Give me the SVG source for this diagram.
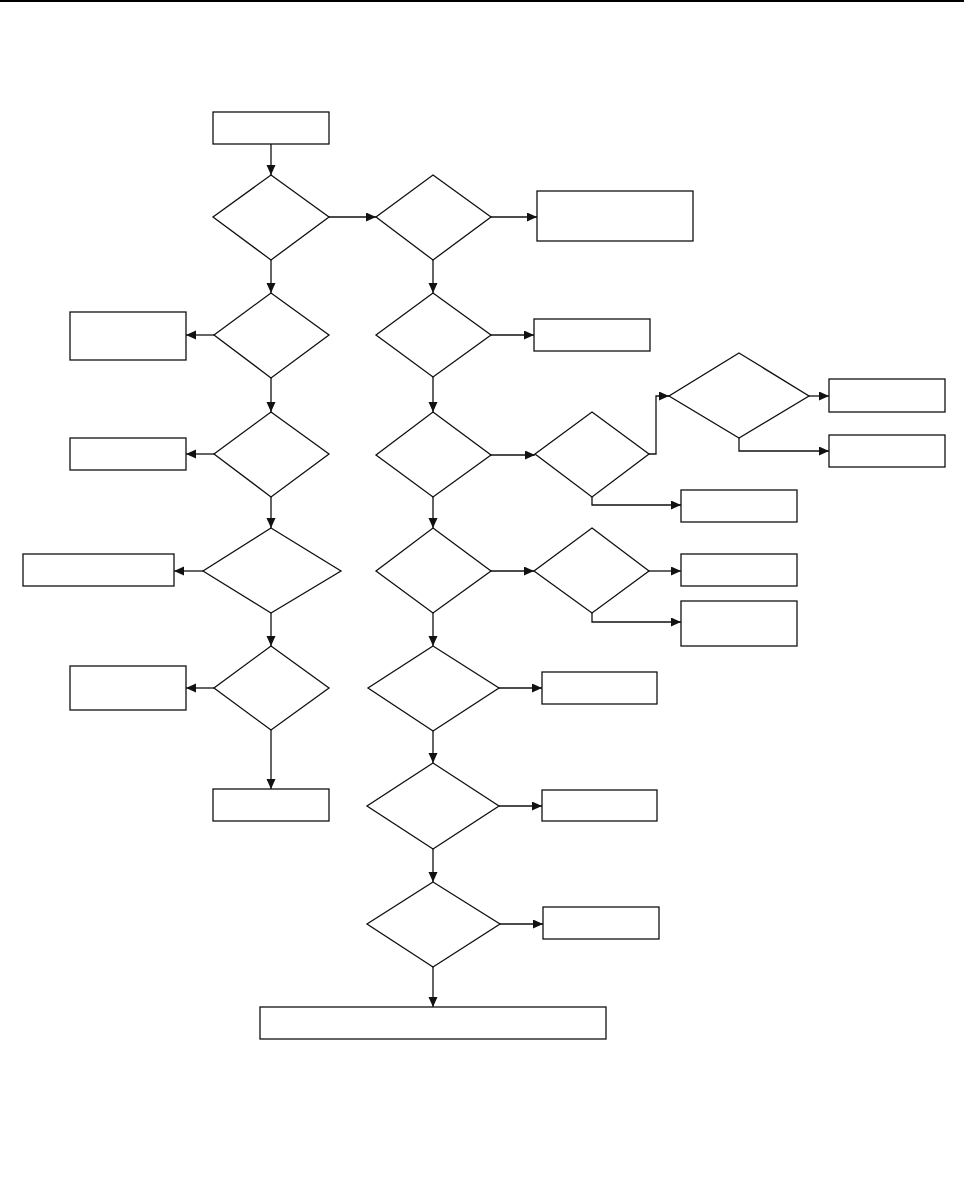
<svg xmlns="http://www.w3.org/2000/svg" width="964" height="1200" viewBox="0 0 964 1200">
<style>
.n{fill:#fff;stroke:#111;stroke-width:1.3}
.c{fill:none;stroke:#111;stroke-width:1.3;marker-end:url(#ah)}
</style>
<defs>
<marker id="ah" markerUnits="userSpaceOnUse" markerWidth="11" markerHeight="10" refX="10" refY="4.5" orient="auto">
<path d="M0,0 L10,4.5 L0,9 z" fill="#111"/>
</marker>
</defs>
<rect x="0" y="0" width="964" height="2" fill="#000"/>
<g id="connectors">
<path class="c" d="M271,144 V175"/>
<path class="c" d="M329,217 H376"/>
<path class="c" d="M491,217 H537"/>
<path class="c" d="M271,260 V293"/>
<path class="c" d="M214,335 H186"/>
<path class="c" d="M271,378 V412"/>
<path class="c" d="M214,454 H186"/>
<path class="c" d="M271,497 V528"/>
<path class="c" d="M203,571 H174"/>
<path class="c" d="M271,613 V646"/>
<path class="c" d="M214,688 H186"/>
<path class="c" d="M271,730 V789"/>
<path class="c" d="M433,260 V293"/>
<path class="c" d="M491,335 H534"/>
<path class="c" d="M433,377 V412"/>
<path class="c" d="M491,455 H535"/>
<path class="c" d="M649,454 H656 V396 H669"/>
<path class="c" d="M809,396 H829"/>
<path class="c" d="M739,438 V451 H829"/>
<path class="c" d="M592,497 V505 H681"/>
<path class="c" d="M433,497 V528"/>
<path class="c" d="M491,571 H534"/>
<path class="c" d="M649,571 H681"/>
<path class="c" d="M592,613 V622 H681"/>
<path class="c" d="M433,613 V646"/>
<path class="c" d="M499,688 H542"/>
<path class="c" d="M433,731 V763"/>
<path class="c" d="M499,806 H542"/>
<path class="c" d="M433,849 V882"/>
<path class="c" d="M500,924 H543"/>
<path class="c" d="M433,967 V1007"/>
</g>
<g id="start"><rect class="n" x="213" y="112" width="116" height="32"/></g>
<g id="dL1"><polygon class="n" points="271,175 329,217 271,260 213,217"/></g>
<g id="dR1"><polygon class="n" points="433,175 491,217 433,260 376,217"/></g>
<g id="rR1"><rect class="n" x="537" y="191" width="156" height="50"/></g>
<g id="dL2"><polygon class="n" points="271,293 329,335 271,378 214,335"/></g>
<g id="rL2"><rect class="n" x="70" y="312" width="116" height="48"/></g>
<g id="dL3"><polygon class="n" points="271,412 329,454 271,497 214,454"/></g>
<g id="rL3"><rect class="n" x="70" y="438" width="116" height="32"/></g>
<g id="dL4"><polygon class="n" points="271,528 341,571 271,613 203,571"/></g>
<g id="rL4"><rect class="n" x="23" y="554" width="151" height="32"/></g>
<g id="dL5"><polygon class="n" points="271,646 329,688 271,730 214,688"/></g>
<g id="rL5"><rect class="n" x="70" y="666" width="116" height="44"/></g>
<g id="rL6"><rect class="n" x="213" y="789" width="116" height="32"/></g>
<g id="dR2"><polygon class="n" points="433,293 491,335 433,377 376,335"/></g>
<g id="rR2"><rect class="n" x="534" y="319" width="116" height="32"/></g>
<g id="dR3"><polygon class="n" points="433,412 491,455 433,497 376,455"/></g>
<g id="dD"><polygon class="n" points="592,412 649,454 592,497 535,454"/></g>
<g id="dE"><polygon class="n" points="739,353 809,396 739,438 669,396"/></g>
<g id="rE1"><rect class="n" x="829" y="379" width="116" height="33"/></g>
<g id="rE2"><rect class="n" x="829" y="435" width="116" height="32"/></g>
<g id="rD"><rect class="n" x="681" y="490" width="116" height="32"/></g>
<g id="dR4"><polygon class="n" points="433,528 491,571 433,613 376,571"/></g>
<g id="dF"><polygon class="n" points="592,528 649,571 592,613 534,571"/></g>
<g id="rF1"><rect class="n" x="681" y="554" width="116" height="32"/></g>
<g id="rF2"><rect class="n" x="681" y="601" width="116" height="45"/></g>
<g id="dR5"><polygon class="n" points="433,646 499,688 433,731 368,688"/></g>
<g id="rR5"><rect class="n" x="542" y="672" width="115" height="32"/></g>
<g id="dR6"><polygon class="n" points="433,763 499,806 433,849 367,806"/></g>
<g id="rR6"><rect class="n" x="542" y="790" width="115" height="31"/></g>
<g id="dR7"><polygon class="n" points="433,882 500,924 433,967 367,924"/></g>
<g id="rR7"><rect class="n" x="543" y="907" width="116" height="32"/></g>
<g id="end"><rect class="n" x="260" y="1007" width="346" height="32"/></g>
</svg>
